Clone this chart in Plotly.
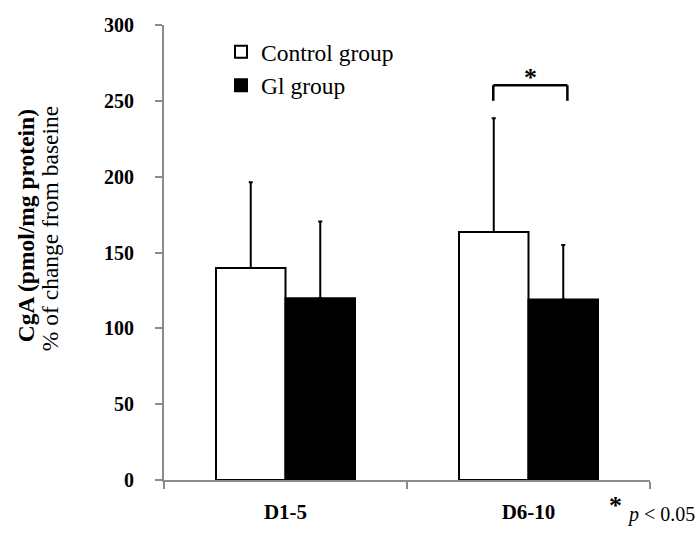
import plotly.graph_objects as go

categories = ["D1-5", "D6-10"]
control_vals = [139.7, 163.5]
control_err = [56.7, 75.0]
gi_vals = [119.9, 119.0]
gi_err = [50.6, 36.0]
y_ticks = [0, 50, 100, 150, 200, 250, 300]

SERIF = "Liberation Serif"
AX = "#8c8c8c"

fig = go.Figure()
fig.add_trace(go.Bar(
    x=categories, y=control_vals, name="Control group", legendgroup="a",
    marker=dict(color="white", line=dict(color="black", width=2)),
    error_y=dict(type="data", symmetric=False, array=control_err,
                 arrayminus=[0, 0], color="black", thickness=2, width=2),
))
fig.add_trace(go.Bar(
    x=categories, y=gi_vals, name="Gl group", legendgroup="b",
    marker=dict(color="black", line=dict(color="black", width=2)),
    error_y=dict(type="data", symmetric=False, array=gi_err,
                 arrayminus=[0, 0], color="black", thickness=2, width=2),
))

L, R, T, B = 164, 49, 25, 43
W, H = 699, 536
pw = W - L - R
ph = H - T - B

def px_x(p):
    return (p - L) / pw

def px_y(p):
    return (H - B - p) / ph

fig.update_layout(
    width=W, height=H,
    margin=dict(l=L, r=R, t=T, b=B, pad=0),
    paper_bgcolor="white", plot_bgcolor="white",
    barmode="group", bargap=0.428, bargroupgap=0,
    showlegend=True,
    legend=dict(x=px_x(221), y=px_y(30), xanchor="left", yanchor="top",
                traceorder="grouped", tracegroupgap=0,
                font=dict(family=SERIF, size=23.5, color="black"),
                bgcolor="rgba(0,0,0,0)", itemwidth=30),
    xaxis=dict(type="category", showline=True, linecolor=AX, linewidth=2,
               ticks="outside", tickson="boundaries", ticklen=7, tickcolor=AX,
               tickwidth=2, showgrid=False, zeroline=False,
               tickfont=dict(family=SERIF, size=21, color="black", weight="bold"),
               ticklabelstandoff=12),
    yaxis=dict(range=[0, 300], tickvals=y_ticks, showline=True, linecolor=AX,
               linewidth=2, ticks="outside", ticklen=7, tickcolor=AX, tickwidth=2,
               showgrid=False, zeroline=False,
               tickfont=dict(family=SERIF, size=20, color="black", weight="bold"),
               ticklabelstandoff=17),
)

# significance bracket
for (x0, y0, x1, y1) in [(0.855, 250, 0.855, 260.3), (0.855, 260.3, 1.16, 260.3),
                         (1.16, 260.3, 1.16, 250)]:
    fig.add_shape(type="line", xref="x", yref="y", x0=x0, y0=y0, x1=x1, y1=y1,
                  line=dict(color="black", width=2.5))

fig.add_annotation(x=1.01, y=254.5, xref="x", yref="y", text="<b>*</b>",
                   showarrow=False, yanchor="bottom",
                   font=dict(family=SERIF, size=26, color="black"))

# y-axis title (two lines)
fig.add_annotation(x=px_x(26), y=px_y(232), xref="paper", yref="paper",
                   text="<b>CgA (pmol/mg protein)</b>", textangle=-90,
                   showarrow=False, xanchor="center", yanchor="middle",
                   font=dict(family=SERIF, size=23.5, color="black"))
fig.add_annotation(x=px_x(50), y=px_y(235), xref="paper", yref="paper",
                   text="% of change from baseine", textangle=-90,
                   showarrow=False, xanchor="center", yanchor="middle",
                   font=dict(family=SERIF, size=23.5, color="black"))

# footnote
fig.add_annotation(x=px_x(615), y=px_y(519), xref="paper", yref="paper",
                   text="<b>*</b>", showarrow=False, xanchor="center", yanchor="middle",
                   font=dict(family=SERIF, size=26, color="black"))
fig.add_annotation(x=px_x(697), y=px_y(528), xref="paper", yref="paper",
                   text="<i>p</i> &lt; 0.05", showarrow=False, xanchor="right",
                   yanchor="middle",
                   font=dict(family=SERIF, size=20, color="black"))

fig.write_html("out.html", config={"displayModeBar": False},
               post_script="document.body.style.margin='0';")
